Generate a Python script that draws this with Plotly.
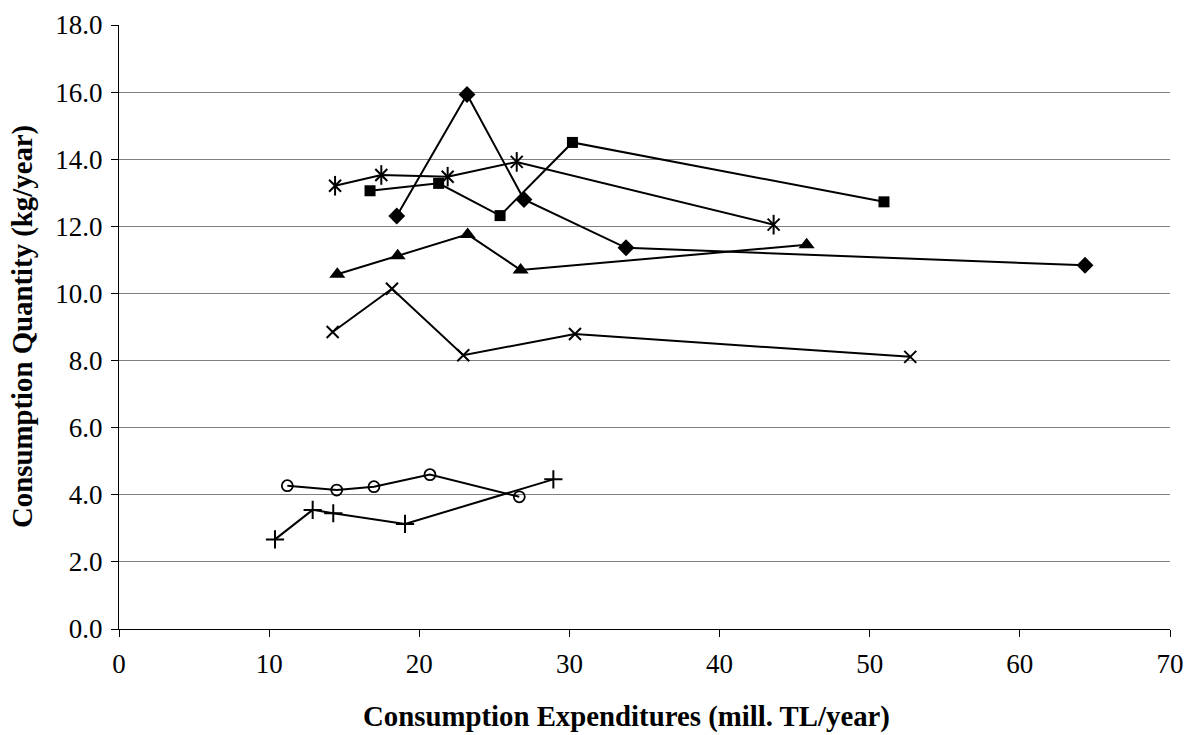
import plotly.graph_objects as go

diamond_x = [18.5, 23.18, 26.97, 33.77, 64.34]
diamond_y = [12.31, 15.93, 12.80, 11.36, 10.84]

square_x = [16.72, 21.29, 25.38, 30.2, 50.95]
square_y = [13.06, 13.28, 12.32, 14.5, 12.73]

triangle_x = [14.54, 18.56, 23.22, 26.75, 45.8]
triangle_y = [10.57, 11.12, 11.76, 10.70, 11.45]

star_x = [14.39, 17.47, 21.89, 26.49, 43.6]
star_y = [13.21, 13.53, 13.48, 13.92, 12.05]

xmark_x = [14.23, 18.18, 22.93, 30.37, 52.7]
xmark_y = [8.85, 10.14, 8.16, 8.79, 8.11]

circle_x = [11.21, 14.50, 16.98, 20.71, 26.66]
circle_y = [4.27, 4.14, 4.24, 4.60, 3.94]

plus_x = [10.39, 12.90, 14.27, 19.05, 28.93]
plus_y = [2.67, 3.55, 3.45, 3.13, 4.46]

x_ticks = [0, 10, 20, 30, 40, 50, 60, 70]
y_ticks = [0, 2, 4, 6, 8, 10, 12, 14, 16, 18]

x_title = "Consumption Expenditures (mill. TL/year)"
y_title = "Consumption Quantity (kg/year)"

series = [
    (diamond_x, diamond_y, "diamond", 13, dict(color="black", width=0)),
    (square_x, square_y, "square", 11, dict(color="black", width=0)),
    (triangle_x, triangle_y, "triangle-up", 14, dict(color="black", width=0)),
    (star_x, star_y, "x-thin-open", 12, dict(color="black", width=2)),
    (xmark_x, xmark_y, "x-thin-open", 12, dict(color="black", width=2)),
    (circle_x, circle_y, "circle-open", 11, dict(color="black", width=1.8)),
    (plus_x, plus_y, "cross-thin-open", 13, dict(color="black", width=2)),
]

fig = go.Figure()
for xs, ys, sym, size, mline in series:
    fig.add_trace(go.Scatter(
        x=xs, y=ys, mode="lines+markers",
        line=dict(color="black", width=2),
        marker=dict(symbol=sym, size=size, color="black", line=mline),
        showlegend=False, cliponaxis=False,
    ))
# vertical stroke completing the six-armed star marker
fig.add_trace(go.Scatter(
    x=star_x, y=star_y, mode="markers",
    marker=dict(symbol="line-ns-open", size=14, color="black",
                line=dict(color="black", width=2)),
    showlegend=False, cliponaxis=False,
))

font_family = "Liberation Serif, Times New Roman, serif"
tick_size = 27
title_size = 28.8
fig.update_layout(
    width=1188, height=735,
    margin=dict(l=119, r=18, t=25, b=106),
    plot_bgcolor="white", paper_bgcolor="white",
    font=dict(family=font_family, size=tick_size, color="black"),
    annotations=[
        dict(text="<b>" + x_title + "</b>", xref="paper", yref="paper",
             x=0.483, y=0, xanchor="center", yanchor="middle", yshift=-87,
             showarrow=False, font=dict(size=title_size, family=font_family)),
        dict(text="<b>" + y_title + "</b>", xref="paper", yref="paper",
             x=0, y=0.5, xanchor="center", yanchor="middle", xshift=-97,
             textangle=-90, showarrow=False,
             font=dict(size=title_size, family=font_family)),
    ],
)
fig.update_xaxes(
    range=[0, 70], tickvals=x_ticks, ticktext=[str(v) for v in x_ticks],
    showgrid=False, zeroline=False, automargin=False,
    showline=True, linecolor="black", linewidth=1,
    ticks="outside", ticklen=7, tickcolor="black",
    tickfont=dict(size=tick_size, family=font_family),
    ticklabelstandoff=4,
)
fig.update_yaxes(
    range=[0, 18], tickvals=y_ticks, ticktext=[f"{v:.1f}" for v in y_ticks],
    showgrid=True, gridcolor="#808080", gridwidth=1, zeroline=False,
    automargin=False,
    showline=True, linecolor="black", linewidth=1,
    ticks="outside", ticklen=7, tickcolor="black",
    tickfont=dict(size=tick_size, family=font_family),
    ticklabelstandoff=3,
)

fig.write_html(
    "out.html",
    config={"displayModeBar": False},
    post_script="document.body.style.margin='0';document.body.style.overflow='hidden';",
)
